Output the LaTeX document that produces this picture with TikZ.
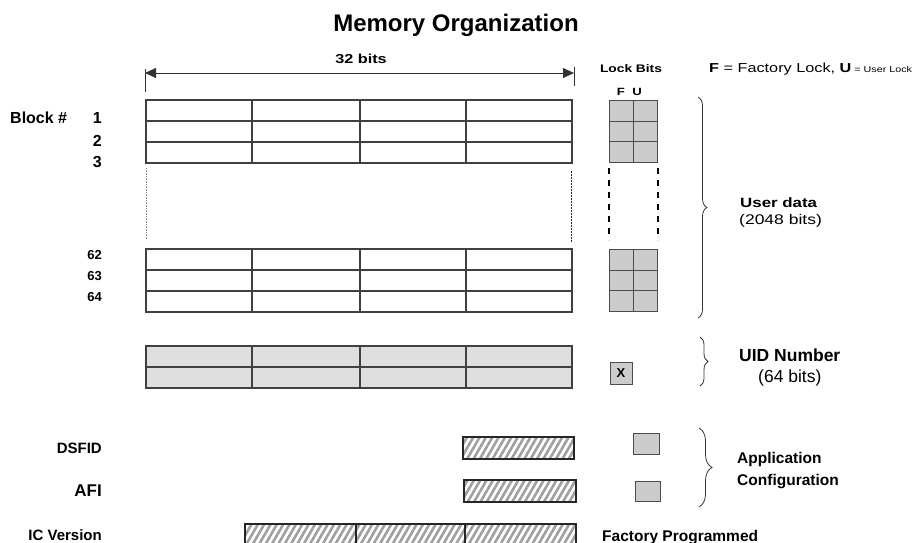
\documentclass[tikz,border=0pt]{standalone}
\usepackage{fontspec}
\setmainfont{Liberation Sans}
\newfontfamily\widefont[FakeStretch=1.25]{Liberation Sans}
\usetikzlibrary{arrows.meta,patterns.meta,decorations.pathreplacing}

\begin{document}
\begin{tikzpicture}[x=1pt,y=-1pt,every node/.style={text=black,inner sep=0pt},
 lab/.style={font=\fontsize{#1}{#1}\selectfont\bfseries},
 txt/.style={font=\fontsize{#1}{#1}\selectfont},
 wlab/.style={font=\widefont\fontsize{#1}{#1}\selectfont\bfseries},
 wtxt/.style={font=\widefont\fontsize{#1}{#1}\selectfont},
 cell/.style={draw=black!75,line width=1.1pt},
 lock/.style={draw=black!70,fill=gray!40,line width=1pt},
 hatch/.style={draw=black!85,line width=1.8pt,pattern={Lines[angle=60,distance=5.5pt,line width=2.6pt]},pattern color=gray!75},
 brc/.style={decorate,decoration={brace,amplitude=#1},draw=black!80,line width=.8pt},
 dim/.style={{Triangle[length=11pt,width=10pt]}-{Triangle[length=11pt,width=10pt]},line width=.8pt,black!80}]
\useasboundingbox (0,0) rectangle (921,542);
\clip (0,0) rectangle (921,542);
\node[lab=24,anchor=base] (title) at (456,31) {Memory Organization};
% word width
\draw[black!80,line width=.8pt] (145,69)--(145,92) (574,67)--(574,86);
\coordinate (dimL) at (145,73);
\coordinate (dimR) at (574,73);
\draw[dim] (dimL)--(dimR);
\node[wlab=13,anchor=base] (wordw) at (361,63) {32 bits};
\node[wlab=11,anchor=base] (lockhd) at (631,72) {Lock Bits};
\node[wlab=10.5,anchor=base] (fcol) at (621,95) {F};
\node[wlab=10.5,anchor=base] (ucol) at (637,95) {U};
\node[wtxt=13,anchor=base west] (legend) at (709,72) {\textbf{F} = Factory Lock, \textbf{U}{\fontsize{8.6}{8.6}\selectfont{} = User Lock}};
% user blocks
\foreach \y in {100,249} {
 \draw[cell] (146,\y) rectangle (572,\y+63);
 \foreach \x in {252,360,466} \draw[cell] (\x,\y)--(\x,\y+63);
 \foreach \d in {21,42} \draw[cell] (146,\y+\d)--(572,\y+\d);
 \draw[lock] (609,\y) rectangle (657,\y+62);
 \draw[lock] (633,\y)--(633,\y+62) (609,\y+21)--(657,\y+21) (609,\y+41)--(657,\y+41);
}
\draw[black!45,densely dotted,line width=.6pt] (146,168)--(146,240);
\draw[black!85,dash pattern=on 2pt off 1pt,line width=.7pt] (571,171)--(571,242);
\draw[black,line width=1.6pt,dash pattern=on 6pt off 6pt] (609,168)--(609,240) (658,168)--(658,240);
\node[lab=16,anchor=base west] (blk) at (10,123) {Block \#};
\node[lab=16,anchor=base east] (b1) at (102,123) {1};
\node[lab=16,anchor=base east] (b2) at (102,146) {2};
\node[lab=16,anchor=base east] (b3) at (102,167) {3};
\node[lab=13,anchor=base east] (b62) at (102,259) {62};
\node[lab=13,anchor=base east] (b63) at (102,280) {63};
\node[lab=13,anchor=base east] (b64) at (102,301) {64};
\draw[brc=9pt] (698,97)--(698,318);
\node[wlab=13.5,anchor=base west] (user) at (740,207) {User data};
\node[wtxt=14,anchor=base west] (userbits) at (739,224) {(2048 bits)};
% UID
\draw[cell,fill=gray!25] (146,346) rectangle (572,388);
\foreach \x in {252,360,466} \draw[cell] (\x,346)--(\x,388);
\draw[cell] (146,367)--(572,367);
\node[lock,lab=13,minimum width=22pt,minimum height=22pt] (xlock) at (621,373) {X};
\draw[brc=8pt] (700,337)--(700,386);
\node[lab=17.5,anchor=base west] (uid) at (739,361) {UID Number};
\node[txt=17.5,anchor=base west] (uidbits) at (758,382) {(64 bits)};
% configuration
\node[lab=15,anchor=base east] (dsfid) at (102,453) {DSFID};
\node[lab=17,anchor=base east] (afi) at (102,496) {AFI};
\node[lab=15,anchor=base east] (icver) at (102,540) {IC Version};
\draw[hatch] (463,437) rectangle (574,459);
\draw[hatch] (464,480) rectangle (576,502);
\draw[hatch] (245,524) rectangle (576,566);
\draw[black!85,line width=1.8pt] (356,524)--(356,566) (465,524)--(465,566);
\draw[lock] (633,433) rectangle (659,454);
\draw[lock] (635,481) rectangle (660,501);
\draw[brc=13pt] (699,428)--(699,507);
\node[lab=15.5,anchor=base west] (appl) at (737,463) {Application};
\node[lab=15.5,anchor=base west] (conf) at (737,485) {Configuration};
\node[lab=15.5,anchor=base west] (fprog) at (602,541) {Factory Programmed};
\end{tikzpicture}
\end{document}
